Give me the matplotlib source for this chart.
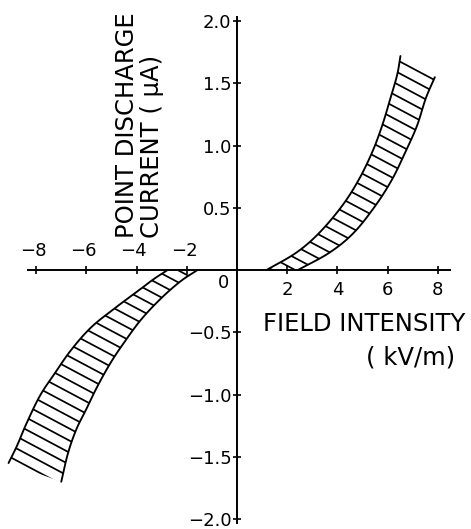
import numpy as np
import matplotlib
matplotlib.use('Agg')
import matplotlib.pyplot as plt
from matplotlib.collections import LineCollection
from matplotlib.patches import Polygon

# ---- data ----
# positive-field band: upper-left boundary and lower-right boundary
pos_upper_x = [1.17, 2.36, 3.28, 4.20, 4.86, 5.39, 5.78, 6.11, 6.38, 6.51]
pos_upper_y = [0.00, 0.14, 0.30, 0.52, 0.73, 0.95, 1.16, 1.38, 1.57, 1.72]
pos_lower_x = [2.42, 3.68, 4.65, 5.52, 6.18, 6.71, 7.17, 7.52, 7.88]
pos_lower_y = [0.00, 0.14, 0.30, 0.52, 0.73, 0.95, 1.16, 1.38, 1.55]
# negative-field band: outer (upper-left) and inner (lower-right) boundary
neg_outer_x = [-2.77, -3.30, -3.83, -4.89, -5.81, -6.60, -7.26, -7.85, -8.38, -8.76, -9.10]
neg_outer_y = [0.00, -0.07, -0.15, -0.31, -0.46, -0.64, -0.83, -1.01, -1.23, -1.41, -1.55]
neg_inner_x = [-1.58, -2.25, -3.04, -3.83, -4.49, -5.02, -5.55, -6.01, -6.40, -6.73, -7.00]
neg_inner_y = [0.00, -0.09, -0.23, -0.40, -0.58, -0.74, -0.93, -1.12, -1.28, -1.47, -1.70]

x_ticks = [-8, -6, -4, -2, 2, 4, 6, 8]
x_tick_labels = ['−8', '−6', '−4', '−2', '2', '4', '6', '8']
y_ticks = [2.0, 1.5, 1.0, 0.5, -0.5, -1.0, -1.5, -2.0]
y_tick_labels = ['2.0', '1.5', '1.0', '0.5', '−0.5', '−1.0', '−1.5', '−2.0']

x_label = ['FIELD INTENSITY', '( kV/m)']
y_label = ['POINT DISCHARGE', 'CURRENT ( μA)']

plt.rcParams['font.family'] = ['DejaVu Sans']

W, H = 471, 529
fig = plt.figure(figsize=(W / 100, H / 100), dpi=100)
ax = fig.add_axes([0, 0, 1, 1])
ax.patch.set_alpha(0)
ax.set_xlim(-9.44, 9.32)
ax.set_ylim(-2.08, 2.17)

for s in ['top', 'right']:
    ax.spines[s].set_visible(False)
ax.spines['left'].set_position(('data', 0))
ax.spines['bottom'].set_position(('data', 0))
ax.spines['bottom'].set_bounds(-8.33, 8.49)
ax.spines['left'].set_bounds(-2.03, 2.03)
for s in ['left', 'bottom']:
    ax.spines[s].set_linewidth(1.4)

ax.set_xticks(x_ticks)
ax.tick_params(axis='x', labelbottom=False, direction='inout', length=6, width=1.2)
ax.set_yticks(y_ticks, y_tick_labels)
ax.tick_params(axis='y', direction='inout', length=6, width=1.2, pad=1, labelsize=13)


def smooth(x, y, k=12):
    """Catmull-Rom spline through the read points (display only)."""
    p = np.column_stack([x, y]).astype(float)
    p = np.vstack([2 * p[0] - p[1], p, 2 * p[-1] - p[-2]])
    out = []
    t = np.linspace(0, 1, k, endpoint=False)[:, None]
    for i in range(1, len(p) - 2):
        p0, p1, p2, p3 = p[i - 1], p[i], p[i + 1], p[i + 2]
        seg = 0.5 * ((2 * p1) + (-p0 + p2) * t + (2 * p0 - 5 * p1 + 4 * p2 - p3) * t ** 2
                     + (-p0 + 3 * p1 - 3 * p2 + p3) * t ** 3)
        out.append(seg)
    out.append(p[-2][None, :])
    out = np.vstack(out)
    return out[:, 0], out[:, 1]


def band(xa, ya, xb, yb, spacing_px=10.6, angle_deg=28, phase=0.0):
    sxa, sya = smooth(xa, ya)
    sxb, syb = smooth(xb, yb)
    ax.plot(sxa, sya, color='k', lw=1.35, solid_capstyle='round')
    ax.plot(sxb, syb, color='k', lw=1.35, solid_capstyle='round')
    poly_pts = np.vstack([np.column_stack([sxa, sya]), np.column_stack([sxb, syb])[::-1]])
    clip = Polygon(poly_pts, closed=True, facecolor='none', edgecolor='none')
    ax.add_patch(clip)
    # parallel hatch lines at a fixed slant (in pixel space)
    pix = ax.transData.transform(poly_pts)
    ang = np.deg2rad(angle_deg)
    d = np.array([np.cos(ang), -np.sin(ang)])      # line direction (down-right)
    nrm = np.array([np.sin(ang), np.cos(ang)])     # normal
    proj = pix @ nrm
    cvals = np.arange(proj.min() - spacing_px + phase, proj.max() + spacing_px, spacing_px)
    L = 2000
    center = pix.mean(axis=0)
    segs = []
    for c in cvals:
        base = center + (c - center @ nrm) * nrm
        a = base - L * d
        b = base + L * d
        segs.append(ax.transData.inverted().transform(np.array([a, b])))
    lc = LineCollection(segs, colors='k', linewidths=1.25)
    ax.add_collection(lc)
    lc.set_clip_path(clip)


band(pos_upper_x, pos_upper_y, pos_lower_x, pos_lower_y, phase=3.0)
band(neg_outer_x, neg_outer_y, neg_inner_x, neg_inner_y, phase=6.0)

for v, lab in zip(x_ticks, x_tick_labels):
    if v < 0:
        ax.annotate(lab, (v, 0), xytext=(-2, 14), textcoords='offset points',
                    ha='center', va='center', fontsize=13)
    else:
        ax.annotate(lab, (v, 0), xytext=(0, -14), textcoords='offset points',
                    ha='center', va='center', fontsize=13)
ax.annotate('0', (0, 0), xytext=(-10, -9), textcoords='offset points',
            ha='center', va='center', fontsize=13)

fig.text(364 / W, 1 - 324 / H, x_label[0], ha='center', va='center', fontsize=17.5)
fig.text(411 / W, 1 - 358 / H, x_label[1], ha='center', va='center', fontsize=17.5)
fig.text(127 / W, 1 - 238 / H, y_label[0], ha='center', va='bottom', rotation=90, fontsize=17.5)
fig.text(152 / W, 1 - 238 / H, y_label[1], ha='center', va='bottom', rotation=90, fontsize=17.5)

fig.savefig('out.png', dpi=100, facecolor='white')
